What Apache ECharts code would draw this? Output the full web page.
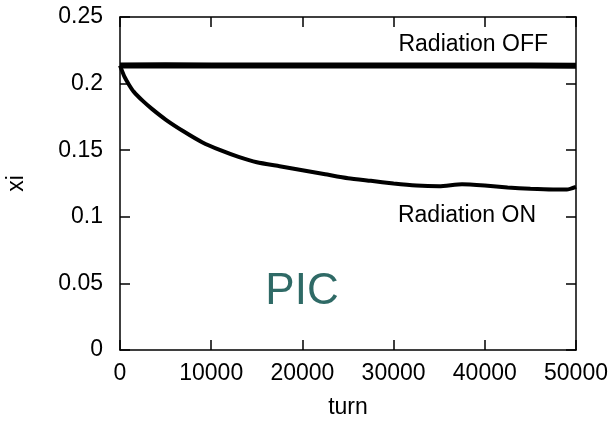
<!DOCTYPE html>
<html>
<head>
<meta charset="utf-8">
<script src="https://cdn.jsdelivr.net/npm/echarts@6/dist/echarts.min.js"></script>
<style>
  html, body { margin: 0; padding: 0; background: #fff; }
  #chart { width: 611px; height: 421px; }
</style>
</head>
<body>
<div id="chart"></div>
<script>
// values
const offTurns = [0, 5000, 10000, 15000, 20000, 25000, 30000, 35000, 40000, 45000, 50000]
const offXi = [0.2135, 0.2137, 0.2136, 0.2135, 0.2136, 0.2135, 0.2136, 0.2135, 0.2136, 0.2135, 0.2134]

const onTurns = [0, 500, 1000, 1500, 2500, 3500, 5000, 7000, 9000, 11000, 13000, 15000,
  17500, 20000, 22500, 25000, 27500, 30000, 32500, 35000, 37500, 40000, 42500, 45000,
  47500, 49000, 50000]
const onXi = [0.2135, 0.205, 0.199, 0.194, 0.187, 0.181, 0.173, 0.164, 0.156, 0.150, 0.145, 0.141,
  0.138, 0.135, 0.132, 0.129, 0.127, 0.125, 0.1235, 0.123, 0.1245, 0.1235, 0.122, 0.121,
  0.1205, 0.1205, 0.1225]

const xMin = 0, xMax = 50000, xStep = 10000
const yMin = 0, yMax = 0.25, yStep = 0.05

const font = 'Liberation Sans, Arial, sans-serif'
const ink = '#000'
const fs = 23

const chart = echarts.init(document.getElementById('chart'))

const zip = (xs, ys) => xs.map((x, i) => [x, ys[i]])

const baseAxis = {
  type: 'value',
  axisLine: { show: true, onZero: false, lineStyle: { color: ink, width: 1.5 } },
  axisTick: { show: true, inside: true, length: 10, lineStyle: { color: ink, width: 1.5 } },
  splitLine: { show: false }
}

chart.setOption({
  animation: false,
  grid: { left: 120, right: 35, top: 17, bottom: 71, containLabel: false, outerBoundsMode: 'none' },
  xAxis: [
    {
      ...baseAxis,
      min: xMin, max: xMax, interval: xStep,
      name: 'turn', nameLocation: 'middle', nameGap: 46,
      nameTextStyle: { fontFamily: font, fontSize: fs, color: ink },
      axisLabel: { fontFamily: font, fontSize: fs, color: ink, margin: 12, formatter: v => String(v) }
    },
    {
      ...baseAxis,
      position: 'top',
      min: xMin, max: xMax, interval: xStep,
      axisLabel: { show: false }
    }
  ],
  yAxis: [
    {
      ...baseAxis,
      min: yMin, max: yMax, interval: yStep,
      name: 'xi', nameLocation: 'middle', nameGap: 92,
      nameTextStyle: { fontFamily: font, fontSize: fs, color: ink },
      axisLabel: { fontFamily: font, fontSize: fs, color: ink, margin: 17, formatter: v => String(v) }
    },
    {
      ...baseAxis,
      position: 'right',
      min: yMin, max: yMax, interval: yStep,
      axisLabel: { show: false }
    }
  ],
  series: [
    {
      name: 'Radiation OFF',
      type: 'line',
      showSymbol: false,
      data: zip(offTurns, offXi),
      lineStyle: { color: ink, width: 6 }
    },
    {
      name: 'Radiation ON',
      type: 'line',
      showSymbol: false,
      smooth: 0.2,
      data: zip(onTurns, onXi),
      lineStyle: { color: ink, width: 4 }
    }
  ],
  graphic: [
    {
      type: 'text', x: 548, y: 45,
      style: { text: 'Radiation OFF', font: fs + 'px ' + font, fill: ink, textAlign: 'right', textVerticalAlign: 'middle' }
    },
    {
      type: 'text', x: 536, y: 216,
      style: { text: 'Radiation ON', font: fs + 'px ' + font, fill: ink, textAlign: 'right', textVerticalAlign: 'middle' }
    },
    {
      type: 'text', x: 302, y: 292,
      style: { text: 'PIC', font: '44px ' + font, fill: '#2f6a66', textAlign: 'center', textVerticalAlign: 'middle' }
    }
  ]
})
</script>
</body>
</html>
